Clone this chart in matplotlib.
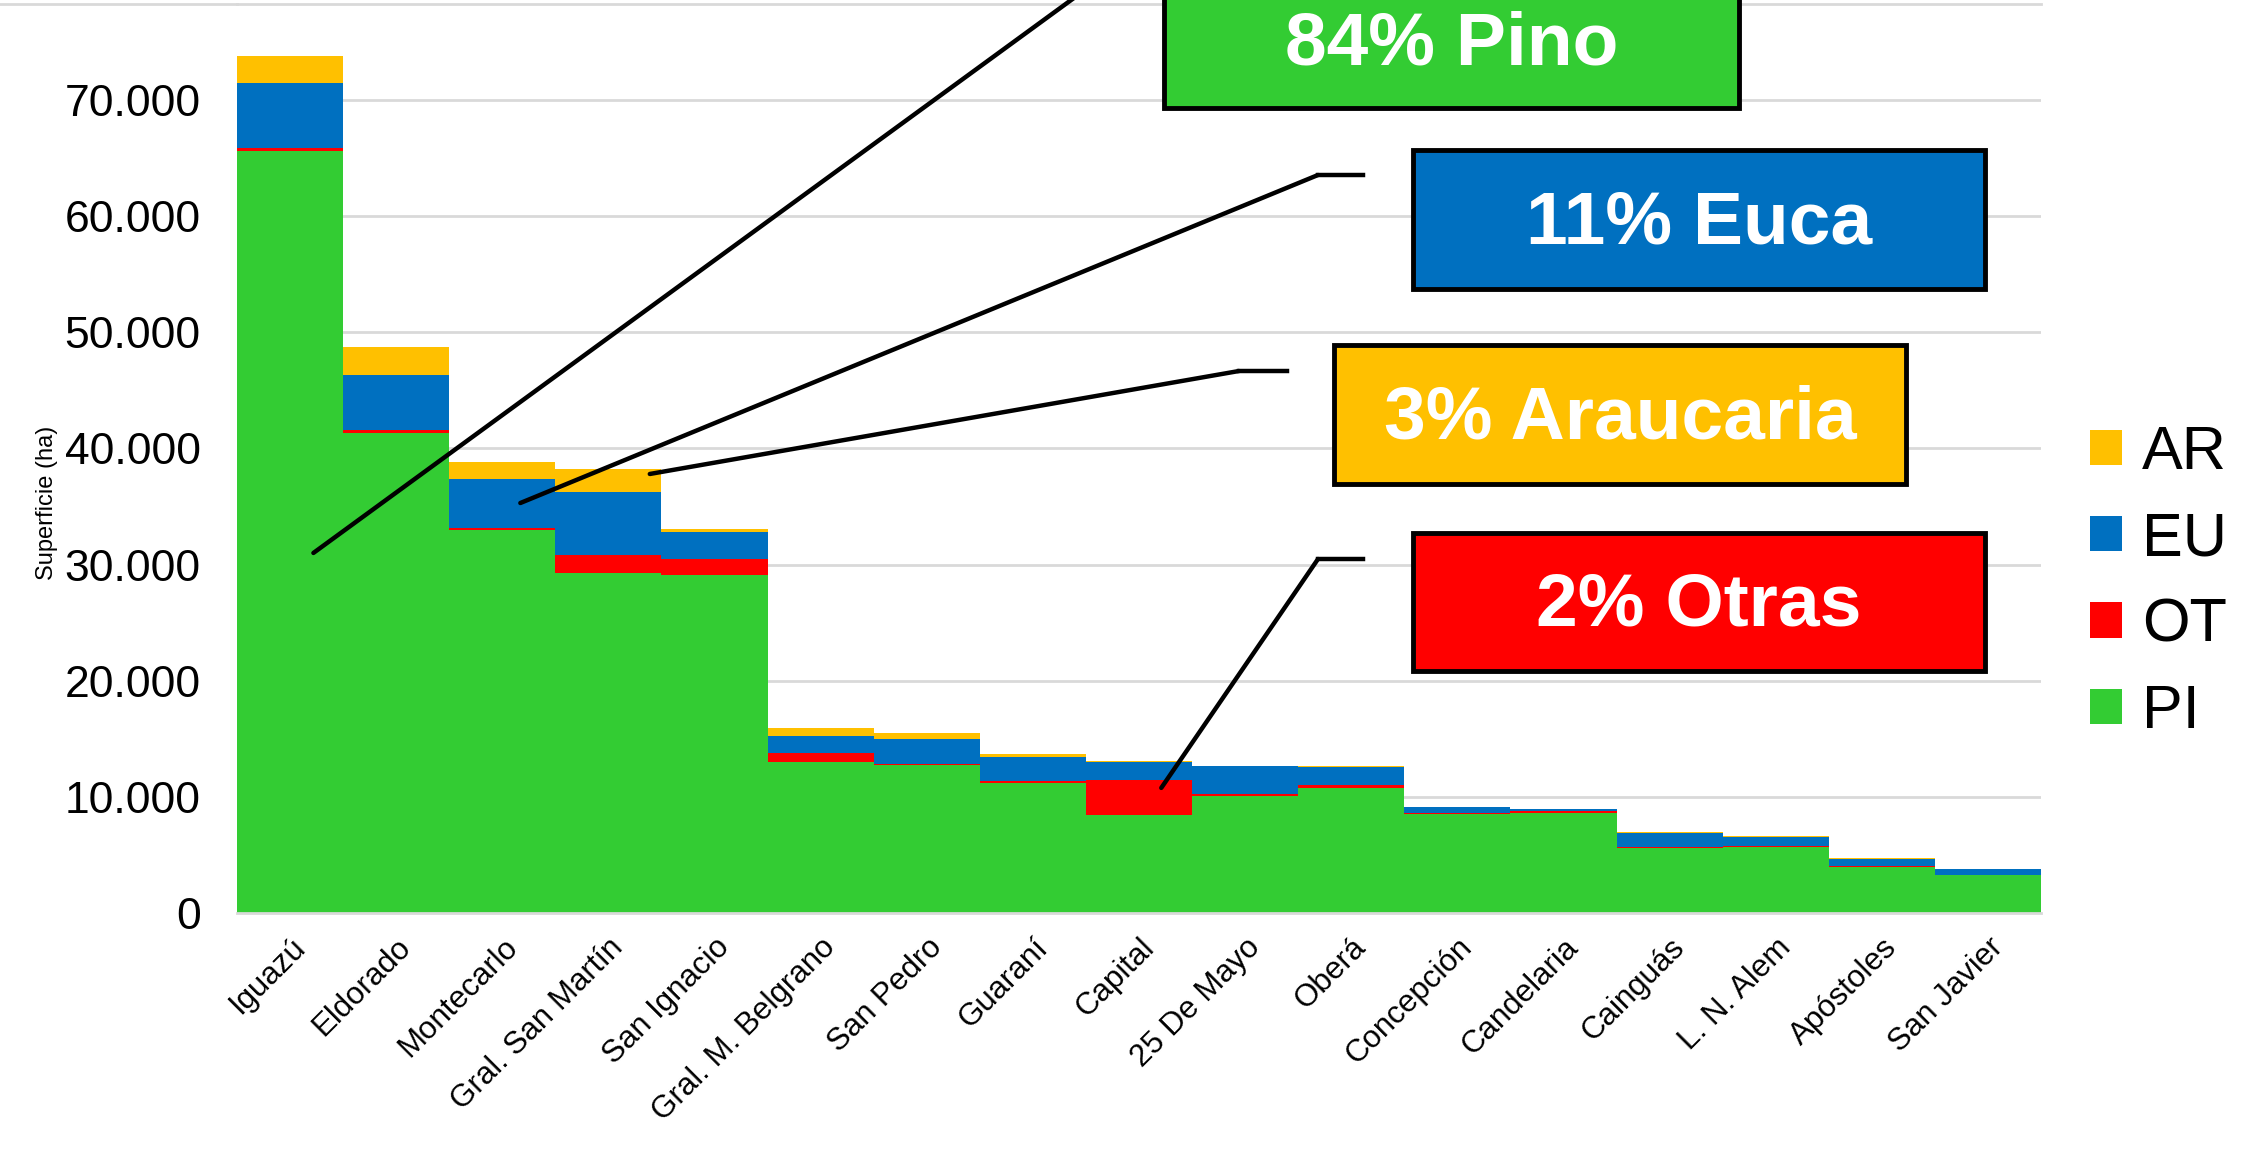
import numpy as np
import matplotlib.pyplot as plt
from matplotlib.lines import Line2D

plt.rcParams['font.family'] = ['Liberation Sans', 'DejaVu Sans']

# superficie por departamento (ha)
departamentos = ['Iguazú', 'Eldorado', 'Montecarlo', 'Gral. San Martín', 'San Ignacio',
                 'Gral. M. Belgrano', 'San Pedro', 'Guaraní', 'Capital', '25 De Mayo',
                 'Oberá', 'Concepción', 'Candelaria', 'Cainguás', 'L. N. Alem',
                 'Apóstoles', 'San Javier']
pi = [65640, 41320, 33000, 29310, 29080, 13040, 12750, 11220, 8400, 10100,
      10730, 8540, 8590, 5570, 5660, 3970, 3280]
ot = [200, 260, 190, 1520, 1380, 720, 80, 120, 3050, 170,
      290, 30, 150, 120, 140, 80, 10]
eu = [5620, 4770, 4210, 5460, 2370, 1490, 2110, 2070, 1560, 2360,
      1530, 560, 200, 1210, 780, 630, 470]
ar = [2310, 2410, 1460, 1940, 270, 690, 540, 290, 50, 60,
      140, 20, 20, 110, 20, 60, 0]

yticks = [0, 10000, 20000, 30000, 40000, 50000, 60000, 70000]
ytick_labels = ['0', '10.000', '20.000', '30.000', '40.000', '50.000', '60.000', '70.000']

colores = {'PI': '#33CC33', 'OT': '#FF0000', 'EU': '#0070C0', 'AR': '#FFC000'}

W, H = 2254, 1150
fig = plt.figure(figsize=(W / 100, H / 100), dpi=100)
ax = fig.add_axes([237 / W, 1 - 913 / H, (2041 - 237) / W, (913 - 4) / H])

x = np.arange(len(departamentos))
b_pi = ax.bar(x, pi, width=1.0, color=colores['PI'], label='PI', zorder=2)
b_ot = ax.bar(x, ot, width=1.0, bottom=pi, color=colores['OT'], label='OT', zorder=2)
base = np.array(pi) + np.array(ot)
b_eu = ax.bar(x, eu, width=1.0, bottom=base, color=colores['EU'], label='EU', zorder=2)
base = base + np.array(eu)
b_ar = ax.bar(x, ar, width=1.0, bottom=base, color=colores['AR'], label='AR', zorder=2)

ax.set_xlim(-0.5, len(departamentos) - 0.5)
ax.set_ylim(0, 70000 * 909 / 813)
ax.set_yticks(yticks)
ax.set_yticklabels(ytick_labels, fontsize=32)
ax.set_xticks(x)
ax.set_xticklabels(departamentos, rotation=45, ha='right', rotation_mode='anchor', fontsize=22.5)
ax.tick_params(axis='y', length=0, pad=26)
ax.tick_params(axis='x', length=0, pad=14)
ax.grid(axis='y', color='#D9D9D9', lw=2, zorder=0)
for s in ['left', 'right']:
    ax.spines[s].set_visible(False)
ax.spines['bottom'].set_color('#D9D9D9')
ax.spines['bottom'].set_linewidth(2)
ax.spines['top'].set_color('#D9D9D9')
ax.spines['top'].set_linewidth(2)

fig.text(47 / W, 1 - 503 / H, 'Superficie (ha)', rotation=90, fontsize=17,
         family=['Liberation Sans Narrow', 'Liberation Sans'],
         ha='center', va='center')

ax.legend(handles=[b_ar, b_eu, b_ot, b_pi], loc='center left',
          bbox_to_anchor=(2090 / W, 1 - 583 / H), bbox_transform=fig.transFigure,
          frameon=False, fontsize=44, handlelength=0.52, handleheight=0.52,
          handletextpad=0.33, labelspacing=0.48, borderpad=0, borderaxespad=0)

# cuadros de porcentaje: (texto, color, x0, y0, x1, y1 en px)
cuadros = [('84% Pino', colores['PI'], 1164, -40, 1739, 108),
           ('11% Euca', colores['EU'], 1413, 150, 1985, 289),
           ('3% Araucaria', colores['AR'], 1334, 345, 1906, 484),
           ('2% Otras', colores['OT'], 1413, 533, 1985, 671)]
for txt, c, x0, y0, x1, y1 in cuadros:
    rect = plt.Rectangle((x0 / W, 1 - y1 / H), (x1 - x0) / W, (y1 - y0) / H,
                         transform=fig.transFigure, facecolor=c, edgecolor='black',
                         lw=3.5, zorder=5)
    fig.add_artist(rect)
    cy = (y0 + y1) / 2 + 4 if y0 >= 0 else 45
    fig.text((x0 + x1) / 2 / W, 1 - cy / H, txt, color='white', fontsize=54,
             fontweight='bold', ha='center', va='center', zorder=6)

# lineas guia: punto en la barra (datos) -> codo (px) -> extremo (px)
guias = [((0.22, 31000), (1126, -40), (1126, -40)),
         ((2.17, 35300), (1318, 175), (1363, 175)),
         ((3.39, 37800), (1239, 371), (1287, 371)),
         ((8.21, 10770), (1318, 559), (1363, 559))]
for (dx, dy), (ex, ey), (fx, fy) in guias:
    ax.annotate('', xy=(dx, dy), xycoords='data',
                xytext=(ex / W, 1 - ey / H), textcoords='figure fraction',
                arrowprops=dict(arrowstyle='-', lw=3.2, color='black',
                                shrinkA=0, shrinkB=0),
                annotation_clip=False, zorder=4)
    fig.add_artist(Line2D([ex / W, fx / W], [1 - ey / H, 1 - fy / H],
                          transform=fig.transFigure, color='black', lw=3.2))

fig.add_artist(Line2D([0, 237 / W], [1 - 4 / H, 1 - 4 / H], transform=fig.transFigure,
                      color='#D9D9D9', lw=2))

fig.savefig('out.png', dpi=100)
